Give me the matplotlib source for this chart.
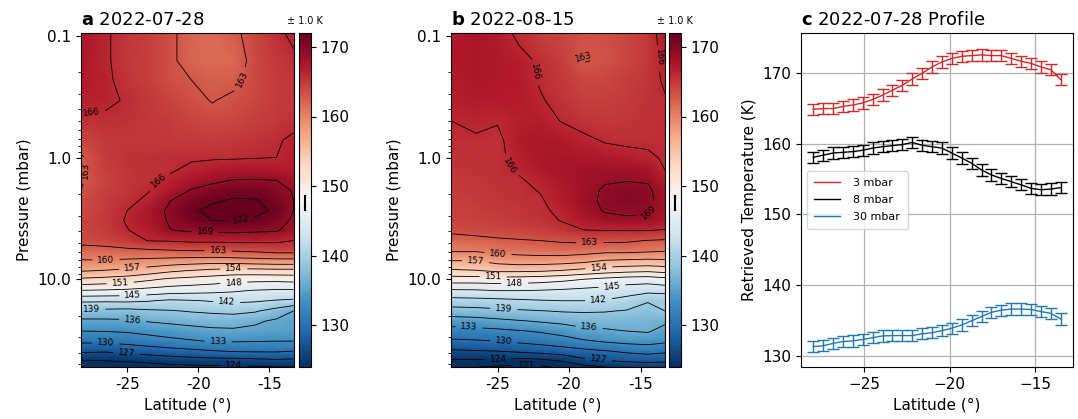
import numpy as np
import matplotlib
matplotlib.use("Agg")
import matplotlib.pyplot as plt
from matplotlib.ticker import NullFormatter

# retrieval grid (latitude columns, pressure rows in mbar)
lat_grid = [-28.25, -26.5, -25.0, -23.5, -22.0, -20.5, -19.0, -17.5, -16.0, -14.5, -13.3]
pres_grid = [0.095, 0.16, 0.23, 0.34, 0.5, 0.72, 1.0, 1.27, 1.54, 1.86, 2.25, 2.72, 3.29, 3.98,
             4.81, 5.82, 7.04, 8.51, 10.0, 12.4, 15.0, 18.2, 22.0, 26.6, 32.2, 38.9, 47.1, 52.5]

# temperature maps (K), one row per pressure level
temp_0728 = [
    [167.6, 166.3, 165.0, 164.5, 163.5, 162.0, 161.5, 162.5, 164.0, 165.5, 166.5],
    [167.4, 166.3, 165.0, 164.5, 163.5, 162.0, 161.5, 161.8, 163.8, 165.0, 165.5],
    [167.0, 166.4, 165.2, 164.5, 163.5, 163.0, 162.3, 162.5, 163.8, 164.8, 165.2],
    [166.7, 166.4, 165.8, 165.0, 164.2, 163.5, 162.9, 163.5, 164.0, 164.8, 165.0],
    [165.5, 165.5, 165.3, 165.0, 164.7, 164.2, 163.8, 164.0, 164.5, 165.0, 165.3],
    [164.0, 165.0, 165.2, 165.2, 165.0, 165.0, 164.8, 165.0, 165.3, 165.7, 166.5],
    [162.7, 164.8, 165.3, 165.5, 165.7, 165.8, 165.8, 165.8, 165.9, 166.0, 166.6],
    [162.7, 164.5, 165.2, 165.5, 165.8, 166.4, 167.0, 167.5, 167.5, 167.2, 167.0],
    [162.8, 164.3, 165.1, 165.6, 166.4, 167.6, 168.4, 169.1, 169.2, 169.0, 168.0],
    [163.0, 164.5, 165.2, 165.9, 167.3, 169.2, 170.3, 171.0, 171.0, 170.0, 168.8],
    [163.5, 164.7, 165.5, 166.4, 168.9, 170.5, 171.6, 172.3, 172.2, 170.8, 169.0],
    [163.8, 164.8, 166.0, 167.5, 169.5, 171.5, 172.8, 173.3, 172.8, 171.5, 169.0],
    [164.0, 165.0, 166.2, 167.5, 169.3, 171.0, 172.0, 172.2, 171.5, 170.5, 168.5],
    [164.0, 164.8, 165.9, 166.8, 168.9, 169.3, 169.5, 169.6, 169.4, 169.2, 168.0],
    [163.7, 164.2, 165.0, 166.1, 166.2, 166.5, 166.5, 166.6, 166.6, 166.5, 166.0],
    [162.0, 162.0, 162.3, 162.5, 162.8, 163.0, 163.0, 163.2, 163.5, 164.0, 164.0],
    [159.8, 159.8, 159.5, 159.2, 158.8, 158.5, 158.3, 158.5, 158.8, 159.0, 159.0],
    [157.2, 156.8, 156.3, 155.5, 154.5, 153.8, 153.2, 152.7, 152.8, 153.0, 153.0],
    [153.5, 153.0, 152.5, 151.5, 150.5, 150.0, 149.5, 149.0, 148.8, 148.8, 149.0],
    [147.8, 147.6, 147.3, 146.8, 146.3, 146.0, 145.7, 145.3, 144.8, 144.5, 144.5],
    [142.5, 142.4, 142.5, 142.2, 141.5, 141.8, 142.2, 142.5, 142.3, 141.8, 141.5],
    [138.5, 138.2, 138.0, 138.5, 138.8, 139.2, 139.5, 139.8, 139.3, 137.8, 136.0],
    [135.3, 135.4, 135.6, 136.2, 136.6, 137.0, 137.3, 137.2, 136.5, 135.5, 135.0],
    [133.0, 133.1, 133.3, 133.8, 134.3, 134.8, 135.3, 135.5, 135.2, 135.0, 135.0],
    [130.5, 130.6, 131.0, 131.6, 132.2, 132.7, 133.2, 133.2, 133.1, 133.0, 133.0],
    [127.5, 127.3, 127.8, 128.3, 128.8, 129.3, 129.8, 130.2, 130.3, 130.3, 130.0],
    [123.5, 123.8, 124.2, 124.6, 125.0, 125.3, 125.5, 125.5, 125.8, 126.2, 126.0],
    [121.0, 121.5, 122.0, 122.5, 123.0, 123.3, 123.5, 123.5, 123.7, 124.0, 124.0],
]

temp_0815 = [
    [167.2, 167.6, 167.0, 165.5, 164.5, 164.0, 163.5, 163.5, 164.0, 165.0, 167.0],
    [167.2, 167.6, 167.3, 166.8, 165.6, 164.5, 162.9, 163.2, 164.0, 165.0, 166.5],
    [166.9, 167.5, 167.3, 167.0, 165.8, 165.0, 164.0, 164.0, 164.5, 165.2, 166.3],
    [166.6, 167.1, 167.1, 167.0, 166.2, 165.3, 164.6, 164.5, 164.8, 165.3, 165.8],
    [166.0, 166.3, 166.1, 166.6, 166.8, 165.9, 165.3, 165.0, 165.2, 165.5, 165.7],
    [165.7, 165.8, 165.6, 167.0, 167.5, 167.3, 166.5, 165.8, 165.6, 165.7, 165.7],
    [165.3, 165.5, 165.6, 166.6, 167.5, 167.8, 167.6, 167.2, 166.8, 166.3, 165.8],
    [165.2, 165.4, 165.6, 166.2, 167.3, 167.8, 168.2, 168.4, 168.4, 168.0, 166.0],
    [165.0, 165.2, 165.4, 165.8, 166.5, 167.5, 168.2, 168.8, 168.9, 168.8, 167.0],
    [164.8, 165.0, 165.3, 165.6, 166.1, 167.3, 168.2, 169.3, 169.8, 169.5, 167.5],
    [164.6, 164.8, 165.1, 165.4, 165.8, 167.0, 168.3, 169.4, 170.0, 169.7, 167.8],
    [164.4, 164.6, 164.9, 165.2, 165.6, 166.5, 168.0, 169.2, 169.5, 169.3, 167.8],
    [164.2, 164.4, 164.6, 165.0, 165.4, 166.1, 167.2, 168.2, 168.5, 168.5, 167.5],
    [163.5, 163.8, 164.0, 164.3, 164.6, 165.2, 165.9, 166.0, 166.0, 166.0, 165.8],
    [161.8, 162.2, 162.6, 162.8, 163.0, 163.3, 163.5, 163.5, 163.4, 162.9, 162.7],
    [160.3, 160.3, 160.8, 161.0, 161.3, 161.5, 161.2, 160.8, 160.8, 160.5, 160.2],
    [157.0, 157.0, 158.0, 158.5, 158.5, 158.3, 157.8, 156.8, 156.5, 156.3, 156.5],
    [153.5, 153.8, 154.5, 154.5, 154.3, 153.8, 153.0, 152.3, 151.8, 151.5, 152.0],
    [149.5, 149.5, 149.6, 149.5, 149.2, 148.7, 148.0, 147.2, 146.5, 146.3, 147.0],
    [144.5, 144.6, 145.0, 145.0, 144.8, 144.5, 144.1, 143.8, 143.2, 142.8, 143.0],
    [140.8, 141.0, 141.2, 141.5, 141.8, 142.0, 142.0, 141.8, 141.0, 139.2, 139.5],
    [137.7, 137.9, 138.3, 138.6, 138.9, 139.2, 139.3, 139.2, 138.8, 138.0, 139.0],
    [134.5, 134.8, 135.3, 135.8, 136.3, 136.8, 137.2, 137.2, 137.0, 136.8, 136.5],
    [131.7, 132.0, 132.3, 132.8, 133.3, 134.0, 135.2, 135.6, 136.0, 136.3, 135.0],
    [129.5, 129.7, 130.0, 130.5, 131.0, 131.7, 132.6, 133.3, 133.8, 134.0, 133.5],
    [126.5, 126.8, 127.0, 127.5, 128.0, 128.5, 129.2, 129.8, 130.5, 131.0, 130.5],
    [123.5, 123.3, 123.2, 122.5, 122.8, 124.0, 126.0, 126.7, 127.2, 127.5, 127.3],
    [121.5, 121.0, 120.5, 120.3, 120.5, 121.5, 123.0, 124.0, 124.5, 125.0, 125.0],
]

levels = [121, 124, 127, 130, 133, 136, 139, 142, 145, 148, 151, 154, 157, 160, 163, 166, 169, 172]
cbar_ticks = [130, 140, 150, 160, 170]
cbar_mid = 147.6   # where the +-1 K bar sits on the colorbar
cbar_err = 1.0

# where the contour labels go (lat, mbar)
labels_0728 = [(-16.85, 0.23), (-27.5, 0.43), (-27.9, 1.27), (-22.6, 1.63), (-17.0, 3.3),
               (-19.5, 4.5), (-18.6, 5.8), (-26.5, 6.8), (-24.6, 8.2), (-17.5, 8.0),
               (-25.5, 10.8), (-17.5, 10.2), (-24.6, 13.5), (-18.0, 15.5), (-27.5, 16.9),
               (-24.6, 20.8), (-18.6, 33.0), (-26.5, 33.5), (-25.05, 40.0), (-17.5, 49.0)]
labels_0815 = [(-19.33, 0.115), (-22.44, 0.2), (-13.68, 0.15), (-24.06, 1.16), (-14.03, 3.1),
               (-18.55, 5.0), (-24.98, 6.3), (-26.53, 7.1), (-17.92, 8.1), (-25.3, 9.6),
               (-23.8, 11.3), (-17.0, 11.8), (-17.92, 16.5), (-24.55, 16.9), (-27.0, 25.6),
               (-18.62, 27.1), (-24.55, 30.6), (-24.98, 42.4), (-23.0, 51.0), (-17.92, 42.4)]

# latitude profiles for 2022-07-28
prof_lat = [-28.0, -27.42, -26.84, -26.26, -25.68, -25.1, -24.52, -23.94, -23.36, -22.78,
            -22.2, -21.62, -21.04, -20.46, -19.88, -19.3, -18.72, -18.14, -17.56, -16.98,
            -16.4, -15.82, -15.24, -14.66, -14.08, -13.5]
prof_3mbar = [164.9, 165.0, 165.0, 165.3, 165.5, 165.8, 166.3, 166.9, 167.6, 168.3,
              169.2, 170.0, 170.9, 171.6, 172.1, 172.4, 172.5, 172.6, 172.5, 172.5,
              172.1, 171.7, 171.4, 170.9, 170.5, 169.1]
prof_8mbar = [158.1, 158.4, 158.7, 158.8, 158.9, 159.1, 159.4, 159.6, 159.75, 159.9,
              160.2, 159.8, 159.6, 159.4, 158.7, 158.0, 157.25, 156.3, 155.6, 155.1,
              154.65, 154.2, 153.7, 153.5, 153.6, 153.8]
prof_30mbar = [131.3, 131.4, 131.75, 132.0, 132.1, 132.3, 132.55, 132.8, 132.85, 132.85,
               132.85, 133.1, 133.25, 133.55, 133.9, 134.35, 134.95, 135.55, 136.15, 136.45,
               136.6, 136.6, 136.55, 136.25, 136.0, 135.2]
prof_err = 0.8

fig = plt.figure(figsize=(10.78, 4.19), dpi=100)
bottom, height = 52 / 419, 334 / 419


def map_panel(ax, cax, temp, label_pos, letter, date):
    ax.set_yscale('log')
    ax.set_xlim(lat_grid[0], lat_grid[-1])
    ax.set_ylim(pres_grid[-1], pres_grid[0])
    mesh = ax.pcolormesh(lat_grid, pres_grid, temp, cmap='RdBu_r', vmin=124, vmax=172,
                         shading='gouraud')
    cs = ax.contour(lat_grid, pres_grid, temp, levels=levels, colors='k', linewidths=0.6)
    ax.clabel(cs, fmt='%d', fontsize=6.5, inline=True, manual=label_pos)
    ax.set_yticks([0.1, 1, 10])
    ax.set_yticklabels(['0.1', '1.0', '10.0'])
    ax.yaxis.set_minor_formatter(NullFormatter())
    ax.set_xticks([-25, -20, -15])
    ax.set_xticklabels(['-25', '-20', '-15'])
    ax.tick_params(labelsize=11)
    ax.set_xlabel('Latitude (°)', fontsize=11)
    ax.set_ylabel('Pressure (mbar)', fontsize=11)
    ax.set_title(r'$\bf{' + letter + '}$ ' + date, loc='left', fontsize=13)

    cb = fig.colorbar(mesh, cax=cax)
    cb.set_ticks(cbar_ticks)
    cb.ax.tick_params(labelsize=11)
    cb.ax.plot([0.5, 0.5], [cbar_mid - cbar_err, cbar_mid + cbar_err], color='k', lw=1.5)
    cb.ax.set_xlim(0, 1)
    cb.ax.set_ylim(124, 172)
    cb.ax.text(0.5, 1.02, '± 1.0 K', transform=cb.ax.transAxes, ha='center', va='bottom',
               fontsize=7)


ax_a = fig.add_axes([81 / 1078, bottom, 212.5 / 1078, height])
cax_a = fig.add_axes([299 / 1078, bottom, 12 / 1078, height])
map_panel(ax_a, cax_a, temp_0728, labels_0728, 'a', '2022-07-28')

ax_b = fig.add_axes([451 / 1078, bottom, 214 / 1078, height])
cax_b = fig.add_axes([669 / 1078, bottom, 12 / 1078, height])
map_panel(ax_b, cax_b, temp_0815, labels_0815, 'b', '2022-08-15')

# profile panel
ax_c = fig.add_axes([801 / 1078, bottom, 272 / 1078, height])
for vals, col, lab in [(prof_3mbar, 'tab:red', '3 mbar'),
                       (prof_8mbar, 'black', '8 mbar'),
                       (prof_30mbar, 'tab:blue', '30 mbar')]:
    ax_c.plot(prof_lat, vals, color=col, lw=1, label=lab)
    ax_c.errorbar(prof_lat, vals, yerr=prof_err, fmt='none', ecolor=col, elinewidth=1,
                  capsize=4)
ax_c.set_xlim(-28.72, -12.78)
ax_c.set_ylim(128.4, 175.7)
ax_c.set_xticks([-25, -20, -15])
ax_c.set_yticks([130, 140, 150, 160, 170])
ax_c.grid(True, color='#b0b0b0', lw=0.9)
ax_c.tick_params(labelsize=11)
ax_c.set_xlabel('Latitude (°)', fontsize=11)
ax_c.set_ylabel('Retrieved Temperature (K)', fontsize=11)
ax_c.set_title(r'$\bf{c}$ 2022-07-28 Profile', loc='left', fontsize=13)
ax_c.legend(loc='center left', fontsize=8, handlelength=2.3, handletextpad=1.2,
            labelspacing=0.6, borderpad=0.7)

fig.savefig('out.png', dpi=100)
